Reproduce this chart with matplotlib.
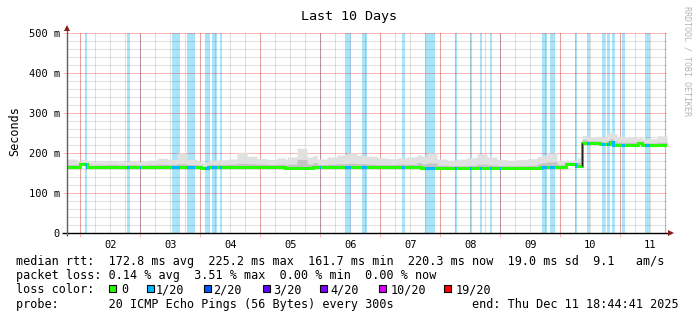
import numpy as np
import matplotlib
matplotlib.use('Agg')
import matplotlib.pyplot as plt
from matplotlib.patches import Rectangle

W, H = 697, 321
MONO = 'DejaVu Sans Mono'

# ---------------- data ----------------
window_hours = 240                      # last 10 days
end_clock_hours = 18 + 44 / 60 + 41 / 3600   # end: Thu Dec 11 18:44:41 2025
day_labels = ['02', '03', '04', '05', '06', '07', '08', '09', '10', '11']

# median rtt in ms, step segments (edges in hours from window start)
median_edges = [0, 5.2, 8, 53.6, 56.4, 87.2, 98.4, 141.6, 189.6, 199.6,
                203.6, 206, 213.2, 217.2, 218.4, 228.4, 230, 240]
median_ms = [166, 172, 166, 162, 166, 162, 166, 163, 166, 172,
             167, 224, 222, 227, 221, 224, 220]

# smoke (ms above median), 4-hour blocks
smoke_block_hours = 4
smoke_top_above = [19, 12, 12, 12, 14, 12, 14, 12, 16, 21,
                   18, 34, 18, 14, 16, 17, 19, 36, 26, 20,
                   18, 22, 28, 50, 28, 19, 24, 29, 34, 29,
                   26, 22, 20, 22, 24, 29, 37, 22, 19, 22,
                   25, 35, 27, 21, 19, 21, 23, 28, 34, 16,
                   10, 20, 17, 18, 27, 20, 19, 15, 16, 23]
smoke_core_above = [5, 4, 4, 4, 5, 4, 5, 4, 5, 6,
                    5, 7, 5, 4, 5, 5, 6, 8, 7, 6,
                    5, 6, 10, 22, 10, 5, 6, 7, 8, 7,
                    6, 5, 5, 6, 6, 10, 12, 6, 5, 5,
                    6, 9, 7, 5, 5, 5, 6, 10, 12, 5,
                    4, 10, 6, 6, 9, 6, 6, 5, 5, 7]

# periods with 1/20 packet loss (hours from window start)
loss_start = [7.2, 24, 29.0, 42, 48, 55.2, 58, 61.2, 101.0, 111.2, 118, 134,
              143.2, 155.2, 161.2, 165.2, 169.2, 173.0, 190, 193.2, 203.2,
              208, 214, 216, 218, 222, 231.2]
loss_end = [8.0, 25.2, 29.6, 45.2, 51.2, 57.2, 60, 62, 101.6, 113.6, 120, 135.2,
            147.2, 156, 162, 166, 170, 173.6, 192, 195.2, 204,
            209.2, 215.2, 217.2, 219.2, 223.2, 233.2]

loss_names = ['0', '1/20', '2/20', '3/20', '4/20', '10/20', '19/20']
loss_colors = ['#26ff00', '#00b8ff', '#0059ff', '#5e00ff', '#7e00ff', '#dd00ff', '#ff0000']

legend_lines = [
    "median rtt:  172.8 ms avg  225.2 ms max  161.7 ms min  220.3 ms now  19.0 ms sd  9.1   am/s",
    "packet loss: 0.14 % avg  3.51 % max  0.00 % min  0.00 % now",
    "loss color:",
    "probe:       20 ICMP Echo Pings (56 Bytes) every 300s           end: Thu Dec 11 18:44:41 2025",
]

# ---------------- figure ----------------
fig = plt.figure(figsize=(W / 100, H / 100), dpi=100, facecolor='white')
ax = fig.add_axes([67 / W, 88 / H, 600 / W, 200 / H])
ax.set_facecolor('white')
ax.set_xlim(0, window_hours)
ax.set_ylim(0, 500)
for s in ax.spines.values():
    s.set_visible(False)

def fx(x):
    return x / W

def fy(y):
    return 1 - y / H

RED = (1, 0, 0, 0.28)
GRAY = (0.45, 0.45, 0.45, 0.22)

# loss bands
for a, b in zip(loss_start, loss_end):
    ax.axvspan(a, b, color='#aae4f9', lw=0, zorder=0.5)

# grid
first_midnight = 24 - end_clock_hours
minor_x = np.arange(first_midnight % 6, window_hours, 6)
midnights = np.arange(first_midnight, window_hours, 24)
noons = midnights + 12
for t in minor_x:
    ax.axvline(t, color=GRAY, lw=0.75, zorder=1)
for t in midnights:
    ax.axvline(t, color=RED, lw=0.75, zorder=1.1)
ax.axvline(window_hours - 0.8, color=RED, lw=0.75, zorder=1.1)
for v in range(20, 500, 20):
    if v % 100:
        ax.axhline(v, color=GRAY, lw=0.75, zorder=1)
for v in range(100, 501, 100):
    ax.axhline(v, color=RED, lw=0.75, zorder=1.1)

# smoke
tt = np.arange(0, window_hours, 0.25)
med_idx = np.clip(np.searchsorted(median_edges, tt, side='right') - 1, 0, len(median_ms) - 1)
med_at = np.array(median_ms, float)[med_idx]
blk = np.clip((tt // smoke_block_hours).astype(int), 0, len(smoke_top_above) - 1)
top = med_at + np.array(smoke_top_above, float)[blk]
core = med_at + np.array(smoke_core_above, float)[blk]
tt_ext = np.append(tt, window_hours)
ax.fill_between(tt_ext, np.append(med_at, med_at[-1]), np.append(top, top[-1]),
                step='post', color='#e0e0e0', lw=0, zorder=2)
ax.fill_between(tt_ext, np.append(med_at, med_at[-1]), np.append(core, core[-1]),
                step='post', color='#c4c4c4', lw=0, zorder=2.1)

# median line (green = no loss, blue overlay in loss periods)
ax.stairs(median_ms, median_edges, baseline=None, color=loss_colors[0], lw=2.2, zorder=4)
for a, b in zip(loss_start, loss_end):
    s = ax.stairs(median_ms, median_edges, baseline=None, color=loss_colors[1], lw=2.2, zorder=4.5)
    s.set_clip_path(Rectangle((a, 0), b - a, 500, transform=ax.transData))
# dark transition on big jumps
for i in range(1, len(median_ms)):
    if abs(median_ms[i] - median_ms[i - 1]) > 30:
        ax.vlines(median_edges[i], median_ms[i - 1], median_ms[i], color='#202020', lw=1.0, zorder=4.6)

# ticks
ax.set_yticks(range(0, 501, 100))
ax.set_yticklabels(['0'] + ['%d m' % v for v in range(100, 501, 100)])
ax.set_yticks(range(20, 500, 20), minor=True)
ax.tick_params(axis='y', which='major', length=3, width=0.75, color=RED, pad=2.2,
               labelsize=7.5, labelfontfamily=MONO, labelcolor='black')
ax.tick_params(axis='y', which='minor', length=0)
ax.set_xticks(midnights)
ax.set_xticklabels([''] * len(midnights))
ax.set_xticks(noons, minor=True)
ax.set_xticklabels(day_labels, minor=True)
ax.tick_params(axis='x', which='major', length=3, width=0.75, color=RED)
ax.tick_params(axis='x', which='minor', length=0, pad=5.2, labelsize=7.5,
               labelfontfamily=MONO, labelcolor='black')

# axis lines with arrows
ax.plot([-5 / 600, 603 / 600], [0, 0], transform=ax.transAxes, color='black', lw=1,
        clip_on=False, zorder=6, solid_capstyle='butt')
ax.plot([0, 0], [-3 / 200, 203 / 200], transform=ax.transAxes, color='#606060', lw=1,
        clip_on=False, zorder=6, solid_capstyle='butt')
ax.plot([604 / 600], [0], transform=ax.transAxes, marker='>', ms=4, color='#8b1a1a',
        clip_on=False, zorder=7, mew=0)
ax.plot([0], [205 / 200], transform=ax.transAxes, marker='^', ms=4, color='#8b1a1a',
        clip_on=False, zorder=7, mew=0)

# texts
fig.text(fx(349), fy(20), 'Last 10 Days', ha='center', va='baseline', fontsize=9.6, family=MONO)
fig.text(fx(15), fy(131.5), 'Seconds', rotation=90, ha='center', va='center', fontsize=8.5, family=MONO)
fig.text(fx(687.5), fy(61), 'RRDTOOL / TOBI OETIKER', rotation=270, ha='center', va='center',
         fontsize=6, family=MONO, color='#b4b4b4')

baselines = [265, 279.2, 293.4, 307.6]
for txt, yb in zip(legend_lines, baselines):
    fig.text(fx(15.5), fy(yb), txt, ha='left', va='baseline', fontsize=8.5, family=MONO)

box_x = [109, 147, 204, 263, 320, 379, 444]
lab_x = [121, 156, 213.5, 273, 330, 391, 456]
for bx, lx, c, n in zip(box_x, lab_x, loss_colors, loss_names):
    fig.add_artist(Rectangle((fx(bx), fy(292)), 7 / W, 7 / H, transform=fig.transFigure,
                             facecolor=c, edgecolor='black', lw=0.8))
    fig.text(fx(lx), fy(293.4), n, ha='left', va='baseline', fontsize=8.5, family=MONO)

fig.savefig('out.png', dpi=100, facecolor='white')
